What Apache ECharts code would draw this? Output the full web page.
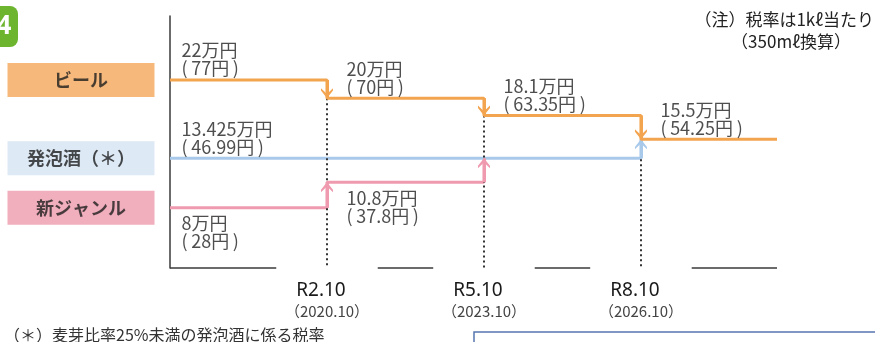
<!DOCTYPE html>
<html>
<head>
<meta charset="utf-8">
<script src="https://cdn.jsdelivr.net/npm/echarts@6/dist/echarts.min.js"></script>
<style>
  html, body { margin: 0; padding: 0; background: #fff; }
  #chart { width: 875px; height: 342px; }
</style>
</head>
<body>
<div id="chart"></div>
<script>
// Liquor tax rates per 1kℓ (万円) and the 350mℓ equivalent (円), by revision date
const productNames = ['ビール', '発泡酒（＊）', '新ジャンル'];
const revisionEra = ['R2.10', 'R5.10', 'R8.10'];
const revisionWestern = ['（2020.10）', '（2023.10）', '（2026.10）'];
const revisionYears = [2020.75, 2023.75, 2026.75];
const periodStart = 2017.75;
const periodEnd = 2029.35;

const beerSteps = [periodStart, 2020.75, 2023.75, 2026.75];
const beerRates = [22, 20, 18.1, 15.5];
const beerPerCan = ['77', '70', '63.35', '54.25'];

const happoshuSteps = [periodStart, 2026.75];
const happoshuRates = [13.425, 15.5];
const happoshuPerCan = ['46.99'];

const newGenreSteps = [periodStart, 2020.75, 2023.75];
const newGenreRates = [8, 10.8, 13.425];
const newGenrePerCan = ['28', '37.8'];

const JP = '"Noto Sans CJK JP", "Noto Sans", sans-serif';
const yMin = 1.4, yMax = 29;
const axisGap = 0.97;   // break in the baseline around each date label

const lineColors = ['#F3A44F', '#A9C9EB', '#EF9AAE'];
const boxColors = ['#F4A65A', '#D4E3F3', '#EE9AAC'];
const arrowPath = 'path://M6,0 L12,8 L12,10.5 L6,4.5 L0,10.5 L0,8 Z';

function stepData(steps, rates, endX) {
  const d = steps.map((x, i) => [x, rates[i]]);
  if (endX != null) d.push([endX, rates[rates.length - 1]]);
  return d;
}

function arrowLines(steps, rates) {
  const out = [];
  for (let i = 1; i < steps.length; i++) {
    out.push([{ coord: [steps[i], rates[i - 1]] }, { coord: [steps[i], rates[i]] }]);
  }
  return out;
}

function stepSeries(name, steps, rates, color, endX, z) {
  return {
    name: name,
    type: 'line',
    step: 'end',
    symbol: 'none',
    z: z,
    silent: true,
    lineStyle: { color: color, width: 3 },
    data: stepData(steps, rates, endX),
    markLine: {
      silent: true,
      animation: false,
      symbol: ['none', arrowPath],
      symbolSize: [12, 10],
      symbolOffset: [0, [0, '50%']],
      label: { show: false },
      emphasis: { disabled: true },
      lineStyle: { color: color, width: 3, type: 'solid' },
      itemStyle: { color: color },
      data: arrowLines(steps, rates)
    }
  };
}

function rateLabels(steps, rates, perCan, below) {
  return perCan.map((p, i) => {
    const first = i === 0;
    return {
      value: [steps[i], rates[i]],
      label: {
        show: true,
        formatter: rates[i] + '万円\n(\u2009' + p + '円\u2009)',
        position: below ? [first ? 12 : 20, 7] : [first ? 12 : 20, -2],
        align: 'left',
        verticalAlign: below ? 'top' : 'bottom'
      }
    };
  });
}

// baseline segments, broken under each date
const baseSegments = [];
{
  const edges = [periodStart];
  revisionYears.forEach(y => { edges.push(y - axisGap, y + axisGap); });
  edges.push(periodEnd);
  for (let i = 0; i < edges.length; i += 2) {
    baseSegments.push([{ coord: [edges[i], yMin] }, { coord: [edges[i + 1], yMin] }]);
  }
}

// dotted drop lines from the beer rate after each revision down to the baseline
const dropLines = revisionYears.map((y, i) => [
  { coord: [y, beerRates[i + 1]] }, { coord: [y, yMin] }
]);

const chart = echarts.init(document.getElementById('chart'), null, { renderer: 'canvas' });

chart.setOption({
  animation: false,
  backgroundColor: '#ffffff',
  textStyle: { fontFamily: JP },
  grid: { left: 170, right: 98, top: 16, bottom: 74 },
  xAxis: {
    type: 'value',
    min: periodStart,
    max: periodEnd,
    axisLine: { show: false },
    axisTick: { show: false },
    splitLine: { show: false },
    axisLabel: {
      customValues: revisionYears,
      margin: 13,
      formatter: function (v) {
        let idx = 0, best = Infinity;
        revisionYears.forEach((y, i) => { const d = Math.abs(y - v); if (d < best) { best = d; idx = i; } });
        return '{era|' + revisionEra[idx] + '}\n{west|' + revisionWestern[idx] + '}';
      },
      rich: {
        era: { fontFamily: '"Noto Sans", sans-serif', fontSize: 19, color: '#1a1a1a', lineHeight: 20, padding: [0, 12, 0, 0] },
        west: { fontFamily: JP, fontSize: 15, color: '#444', lineHeight: 20 }
      }
    }
  },
  yAxis: {
    type: 'value',
    min: yMin,
    max: yMax,
    axisLine: { show: true, lineStyle: { color: '#3a3a3a', width: 1.5 } },
    axisTick: { show: false },
    axisLabel: { show: false },
    splitLine: { show: false }
  },
  series: [
    {
      name: 'baseline',
      type: 'line',
      data: [],
      silent: true,
      markLine: {
        silent: true, animation: false, symbol: 'none',
        label: { show: false }, emphasis: { disabled: true },
        lineStyle: { color: '#3a3a3a', width: 1.5, type: 'solid' },
        data: baseSegments
      }
    },
    {
      name: 'drops',
      type: 'line',
      data: [],
      silent: true,
      markLine: {
        silent: true, animation: false, symbol: 'none',
        label: { show: false }, emphasis: { disabled: true },
        lineStyle: { color: '#333', width: 2, type: [2, 3] },
        data: dropLines
      }
    },
    stepSeries(productNames[2], newGenreSteps, newGenreRates, lineColors[2], null, 3),
    stepSeries(productNames[1], happoshuSteps, happoshuRates, lineColors[1], null, 4),
    stepSeries(productNames[0], beerSteps, beerRates, lineColors[0], periodEnd, 5),
    {
      name: 'rates',
      type: 'scatter',
      symbol: 'circle',
      symbolSize: 1,
      silent: true,
      z: 6,
      itemStyle: { color: 'rgba(0,0,0,0)' },
      label: { fontFamily: JP, fontSize: 18, lineHeight: 18, color: '#222' },
      data: [].concat(
        rateLabels(beerSteps, beerRates, beerPerCan, false),
        rateLabels(happoshuSteps, happoshuRates, happoshuPerCan, false),
        rateLabels(newGenreSteps, newGenreRates, newGenrePerCan, true)
      )
    },
    {
      name: 'names',
      type: 'scatter',
      symbol: 'circle',
      symbolSize: 1,
      silent: true,
      z: 6,
      itemStyle: { color: 'rgba(0,0,0,0)' },
      data: [
        [beerSteps[0], beerRates[0]],
        [happoshuSteps[0], happoshuRates[0]],
        [newGenreSteps[0], newGenreRates[0]]
      ].map((pt, i) => ({
        value: pt,
        label: {
          show: true,
          position: 'left',
          distance: 15,
          formatter: '{b|' + productNames[i] + '}',
          rich: {
            b: {
              width: 147, height: 34, lineHeight: 34, align: 'center',
              backgroundColor: boxColors[i],
              fontFamily: JP, fontSize: 18, fontWeight: 'bold', color: '#1e1e1e'
            }
          }
        }
      }))
    }
  ],
  graphic: [
    { type: 'rect', x: 0, y: 0, shape: { x: -30, y: 6, width: 48, height: 41, r: 8 }, style: { fill: '#6DB42F' } },
    { type: 'text', x: 0, y: 0, style: { x: 4, y: 27, text: '4', fill: '#fff', font: 'bold 26px "Noto Sans", sans-serif', textAlign: 'center', textVerticalAlign: 'middle' } },
    { type: 'text', x: 0, y: 0, style: { x: 874, y: 20, text: '（注）税率は1kℓ当たり', fill: '#222', font: '17px ' + JP, textAlign: 'right', textVerticalAlign: 'middle' } },
    { type: 'text', x: 0, y: 0, style: { x: 791, y: 42, text: '（350mℓ換算）', fill: '#222', font: '17px ' + JP, textAlign: 'center', textVerticalAlign: 'middle' } },
    { type: 'text', x: 0, y: 0, style: { x: 4, y: 335, text: '（＊）麦芽比率25%未満の発泡酒に係る税率', fill: '#333', font: '16px ' + JP, textAlign: 'left', textVerticalAlign: 'middle' } },
    { type: 'rect', x: 0, y: 0, shape: { x: 474, y: 332, width: 420, height: 40 }, style: { fill: '#fff', stroke: '#5676AE', lineWidth: 1.5 } }
  ]
});
</script>
</body>
</html>
